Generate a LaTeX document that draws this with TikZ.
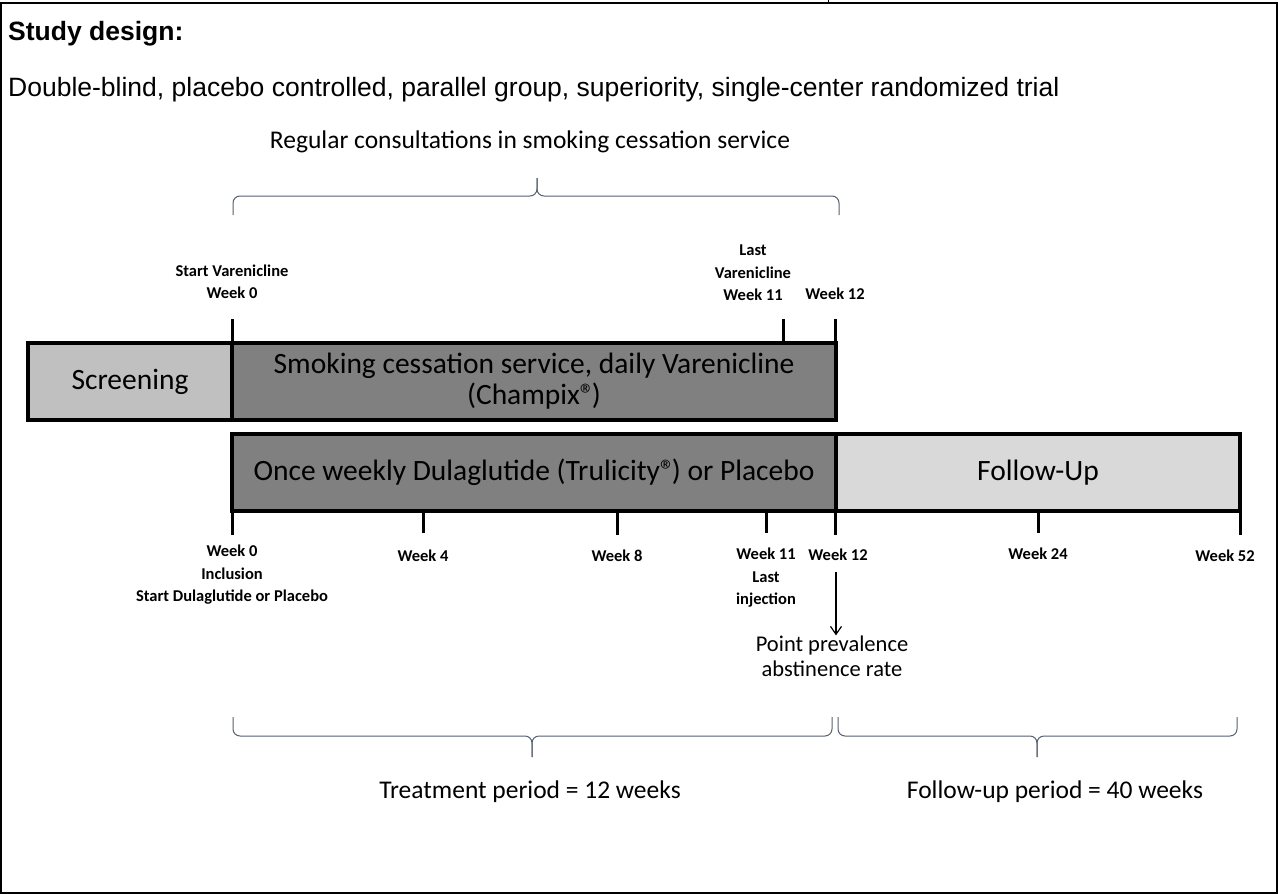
\documentclass[tikz,border=0pt]{standalone}
\usepackage{fontspec}
\setmainfont{Carlito}
\newfontfamily\arialfont{Liberation Sans}
\usetikzlibrary{arrows.meta}
\definecolor{scrgray}{HTML}{C0C0C0}
\definecolor{darkbox}{HTML}{808080}
\definecolor{fugray}{HTML}{D9D9D9}
\definecolor{bracecol}{HTML}{566070}
\newcommand\regmk{®\kern-3pt}
\begin{document}
\begin{tikzpicture}[x=1pt,y=-1pt,
  lbl/.style={font=\fontsize{16.5}{22.5}\selectfont\bfseries, align=center, inner sep=0},
  boxtxt/.style={font=\fontsize{29.5}{31}\selectfont, align=center},
  phase/.style={draw=black, line width=3.5pt, inner sep=0, minimum height=77pt},
  tickline/.style={line width=3pt},
  bracepath/.style={draw=bracecol, line width=1pt, rounded corners=7pt},
  bigtxt/.style={font=\fontsize{25.5}{30}\selectfont, align=center, inner sep=0}]
\useasboundingbox (0,0) rectangle (1278,894);
% frame
\draw[line width=2pt] (1,893) -- (1,3) -- (1277,3) -- (1277,893) -- cycle;
\draw[line width=1pt] (828,0) -- (828,3);
% header texts
\node[anchor=base west, inner sep=0, font=\arialfont\bfseries\fontsize{26.5}{30}\selectfont] (title) at (8,40) {Study design:};
\node[anchor=base west, inner sep=0, font=\arialfont\fontsize{26.5}{30}\selectfont] (sub) at (8,96) {Double-blind, placebo controlled, parallel group, superiority, single-center randomized trial};
\node[bigtxt] (reg) at (530,142) {Regular consultations in smoking cessation service};
% top brace
\draw[bracepath] (233,215) -- (233,196) -- (537,196) -- (537,178);
\draw[bracepath] (839,215) -- (839,196) -- (537,196) -- (537,178);
% row 1
\node[phase, fill=scrgray, minimum width=204pt] (scr) at (130,381.5) {};
\node[boxtxt] at (scr.center) {Screening};
\node[phase, fill=darkbox, minimum width=604pt] (smk) at (534,381.5) {};
\node[boxtxt] at (smk.center) {Smoking cessation service, daily Varenicline\\(Champix\regmk)};
% row 2
\node[phase, fill=darkbox, minimum width=604pt] (dul) at (534,472.5) {};
\node[boxtxt] at (dul.center) {Once weekly Dulaglutide (Trulicity\regmk) or Placebo};
\node[phase, fill=fugray, minimum width=404pt] (fu) at (1038,472.5) {};
\node[boxtxt] at (fu.center) {Follow-Up};
% top ticks
\coordinate (t0) at (232,319);
\coordinate (t11) at (783,319);
\coordinate (t12) at (835,319);
\draw[tickline] (t0) -- (t0 |- smk.north);
\draw[tickline] (t11) -- (t11 |- smk.north);
\draw[tickline] (t12) -- (t12 |- smk.north);
\node[lbl] (lv0) at (232,282) {Start Varenicline\\Week 0};
\node[lbl] (lv11) at (753,273) {Last\\Varenicline\\Week 11};
\node[lbl] (lv12) at (835,294) {Week 12};
% bottom ticks
\foreach \nm/\xx/\len in {b0/232/25, b4/423/23, b8/617/25, b11/766/23, b12/835/25, b24/1038/23, b52/1240/25}{
  \coordinate (\nm) at (\xx,510);
  \draw[tickline] (\nm) -- ++(0,\len);
}
\node[lbl] (w0) at (232,575) {Week 0\\Inclusion\\Start Dulaglutide or Placebo};
\node[lbl] (w4) at (423,556) {Week 4};
\node[lbl] (w8) at (617,556) {Week 8};
\node[lbl] (w11) at (766,578) {Week 11\\Last\\injection};
\node[lbl] (w12) at (838,555) {Week 12};
\node[lbl] (w24) at (1038,554) {Week 24};
\node[lbl] (w52) at (1225,556) {Week 52};
% arrow
\node[font=\fontsize{22.5}{25}\selectfont, align=center, inner sep=0] (ppr) at (832,656) {Point prevalence\\abstinence rate};
\coordinate (arrs) at (836,572);
\draw[line width=1.2pt, -{Straight Barb[length=8pt,width=11pt]}] (arrs) -- (arrs |- ppr.north);
% bottom braces
\draw[bracepath] (233,717) -- (233,736) -- (532,736) -- (532,757);
\draw[bracepath] (832,717) -- (832,736) -- (532,736) -- (532,757);
\draw[bracepath] (838,717) -- (838,736) -- (1037,736) -- (1037,757);
\draw[bracepath] (1237,717) -- (1237,736) -- (1037,736) -- (1037,757);
\node[bigtxt] (tp) at (530,792) {Treatment period = 12 weeks};
\node[bigtxt] (fp) at (1055,792) {Follow-up period = 40 weeks};
\end{tikzpicture}
\end{document}
